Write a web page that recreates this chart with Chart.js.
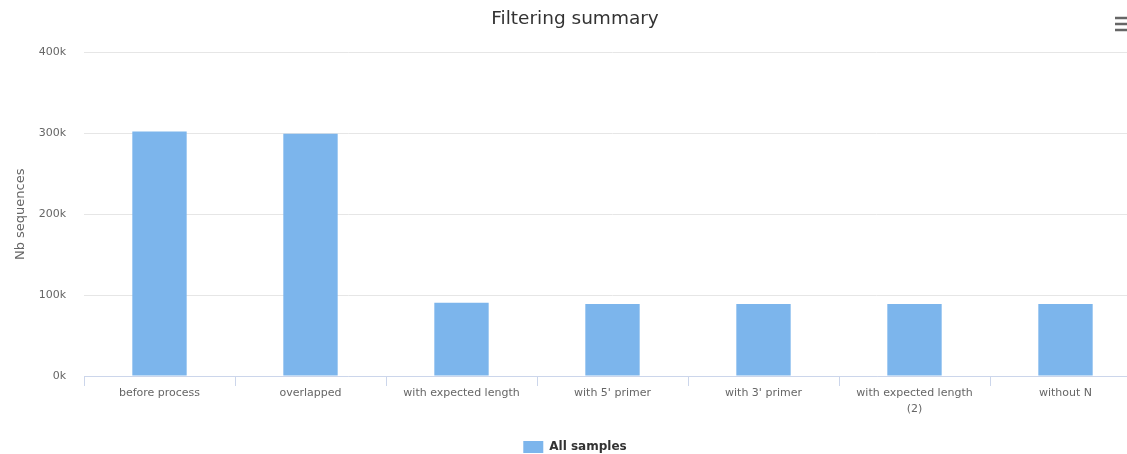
<!DOCTYPE html>
<html>
<head>
<meta charset="utf-8">
<script src="https://cdn.jsdelivr.net/npm/chart.js@4/dist/chart.umd.min.js"></script>
<style>
  html, body { margin: 0; padding: 0; background: #fff; overflow: hidden; }
  #wrap { width: 1150px; height: 454px; position: relative; }
</style>
</head>
<body>
<div id="wrap"><canvas id="c" width="1150" height="454"></canvas></div>
<script>
const categories = ["before process", "overlapped", "with expected length", "with 5' primer", "with 3' primer", ["with expected length", "(2)"], "without N"];
const seriesName = "All samples";
const seriesValues = [302500, 299500, 90500, 89000, 89000, 89000, 89000];
const yTicks = [0, 100000, 200000, 300000, 400000];

const FONT = "'DejaVu Sans', Verdana, sans-serif";

const menuIcon = {
  id: 'menuIcon',
  afterDraw(chart) {
    const ctx = chart.ctx;
    ctx.save();
    ctx.strokeStyle = '#666';
    ctx.lineWidth = 2.5;
    for (let i = 0; i < 3; i++) {
      const y = 18 + i * 6;
      ctx.beginPath();
      ctx.moveTo(1115, y);
      ctx.lineTo(1130, y);
      ctx.stroke();
    }
    ctx.restore();
  }
};

new Chart(document.getElementById('c'), {
  type: 'bar',
  data: {
    labels: categories,
    datasets: [{
      label: seriesName,
      data: seriesValues,
      backgroundColor: '#7cb5ec',
      borderWidth: 0,
      barPercentage: 0.36,
      categoryPercentage: 1.0
    }]
  },
  options: {
    responsive: false,
    animation: false,
    devicePixelRatio: 1,
    layout: { padding: { left: 9, right: 9, top: 0, bottom: -9 } },
    plugins: {
      title: {
        display: true,
        text: 'Filtering summary',
        color: '#333333',
        font: { family: FONT, size: 18.5, weight: 'normal' },
        padding: { top: 8, bottom: 22.4 }
      },
      legend: {
        position: 'bottom',
        labels: {
          color: '#333333',
          font: { family: FONT, size: 12, weight: 'bold' },
          boxWidth: 20,
          boxHeight: 12,
          padding: 1
        }
      },
      tooltip: { enabled: false }
    },
    scales: {
      x: {
        offset: true,
        grid: {
          display: true,
          drawOnChartArea: false,
          drawTicks: true,
          tickLength: 10,
          color: '#ccd6eb',
          offset: true
        },
        border: { display: true, color: '#ccd6eb' },
        ticks: {
          color: '#666666',
          font: { family: FONT, size: 11, lineHeight: 1.45 },
          maxRotation: 0,
          autoSkip: false,
          padding: -1
        },
        afterFit(s) { s.height = 64; }
      },
      y: {
        min: 0,
        max: 400000,
        afterBuildTicks(s) { s.ticks = yTicks.map(v => ({ value: v })); },
        grid: { color: '#e6e6e6', drawTicks: false },
        border: { display: false },
        ticks: {
          color: '#666666',
          font: { family: FONT, size: 11 },
          padding: 18,
          callback: v => (v / 1000) + 'k'
        },
        title: {
          display: true,
          text: 'Nb sequences',
          color: '#666666',
          font: { family: FONT, size: 13 },
          padding: { top: 4, bottom: 0 }
        },
        afterFit(s) { s.width = 75; }
      }
    }
  },
  plugins: [menuIcon]
});
</script>
</body>
</html>
